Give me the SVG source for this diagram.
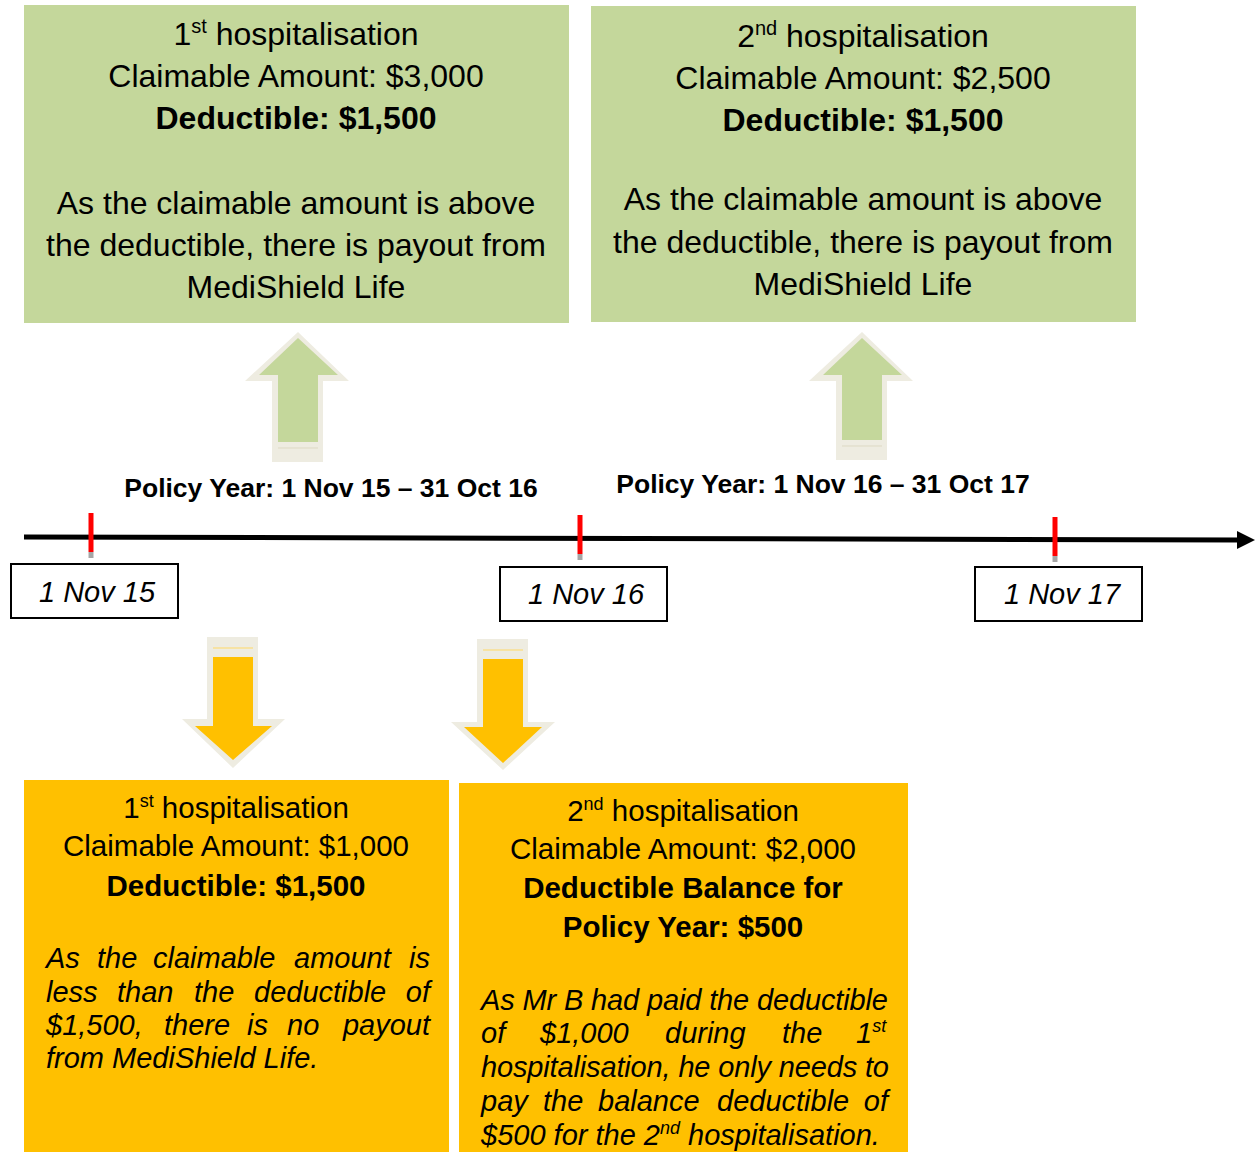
<svg xmlns="http://www.w3.org/2000/svg" width="1255" height="1152" viewBox="0 0 1255 1152">
<style>
text{font-family:"Liberation Sans",Arial,sans-serif;fill:#000}
.g{fill:#C4D79B}
.y{fill:#FFC000}
.t29{font-size:32px;text-anchor:middle}
.t27{font-size:29.5px;text-anchor:middle}
.b{font-weight:bold}
.it{font-size:29px;font-style:italic}
.e{text-anchor:end}
.date{font-size:29px;font-style:italic;text-anchor:middle}
.py{font-size:26.5px;font-weight:bold;text-anchor:middle}
.box{fill:#fff;stroke:#000;stroke-width:2}
.tick{stroke:#FF0000;stroke-width:5}
.tickb{stroke:#A6A6A6;stroke-width:5}
.ao{fill:#EEECE1}
.ag{fill:#C4D79B}
.ay{fill:#FFC000}
</style>
<rect width="1255" height="1152" fill="#fff"/>

<g id="green1">
<rect class="g" x="24" y="5" width="545" height="318"/>
<text class="t29" x="296" y="45">1<tspan font-size="20" dy="-12">st</tspan><tspan dy="12"> hospitalisation</tspan></text>
<text class="t29" x="296" y="87">Claimable Amount: $3,000</text>
<text class="t29 b" x="296" y="129">Deductible: $1,500</text>
<text class="t29" x="296" y="214">As the claimable amount is above</text>
<text class="t29" x="296" y="256">the deductible, there is payout from</text>
<text class="t29" x="296" y="298">MediShield Life</text>
</g>

<g id="green2">
<rect class="g" x="591" y="6" width="545" height="316"/>
<text class="t29" x="863" y="47">2<tspan font-size="20" dy="-12">nd</tspan><tspan dy="12"> hospitalisation</tspan></text>
<text class="t29" x="863" y="89">Claimable Amount: $2,500</text>
<text class="t29 b" x="863" y="131">Deductible: $1,500</text>
<text class="t29" x="863" y="210">As the claimable amount is above</text>
<text class="t29" x="863" y="253">the deductible, there is payout from</text>
<text class="t29" x="863" y="295">MediShield Life</text>
</g>

<g id="connectors">
<polygon class="ao" points="298,332 349,381 323,381 323,462 272,462 272,381 245,381"/>
<polygon class="ag" points="298,338 338,375 318,375 318,442 278,442 278,375 259,375"/>
<line x1="278" y1="448" x2="318" y2="448" stroke="#DDD9C3" stroke-width="1"/>
<polygon class="ao" points="862,332 913,381 887,381 887,460 836,460 836,381 809,381"/>
<polygon class="ag" points="862,338 902,375 882,375 882,440 842,440 842,375 823,375"/>
<line x1="842" y1="446" x2="882" y2="446" stroke="#DDD9C3" stroke-width="1"/>

<polygon class="ao" points="207,637 258,637 258,719 285,719 233,768 182,719 207,719"/>
<polygon class="ay" points="213,657 253,657 253,726 272,726 233,760 195,726 213,726"/>
<line x1="213" y1="648" x2="253" y2="648" stroke="#FFD966" stroke-width="1"/>
<polygon class="ao" points="477,639 528,639 528,722 555,722 503,770 451,722 477,722"/>
<polygon class="ay" points="483,659 523,659 523,727 542,727 503,763 464,727 483,727"/>
<line x1="483" y1="650" x2="523" y2="650" stroke="#FFD966" stroke-width="1"/>

<line x1="24" y1="537" x2="1240" y2="540" stroke="#000" stroke-width="5"/>
<polygon points="1255,540 1237,531 1237,549" fill="#000"/>
<line class="tick" x1="91" y1="513" x2="91" y2="552"/>
<line class="tickb" x1="91" y1="552" x2="91" y2="558"/>
<line class="tick" x1="580" y1="515" x2="580" y2="554"/>
<line class="tickb" x1="580" y1="554" x2="580" y2="560"/>
<line class="tick" x1="1055" y1="517" x2="1055" y2="556"/>
<line class="tickb" x1="1055" y1="556" x2="1055" y2="562"/>
</g>

<g id="policy1"><text class="py" x="331" y="497">Policy Year: 1 Nov 15 – 31 Oct 16</text></g>
<g id="policy2"><text class="py" x="823" y="493">Policy Year: 1 Nov 16 – 31 Oct 17</text></g>

<g id="date1"><rect class="box" x="11" y="564" width="167" height="54"/><text class="date" x="97" y="602">1 Nov 15</text></g>
<g id="date2"><rect class="box" x="500" y="567" width="167" height="54"/><text class="date" x="586" y="604">1 Nov 16</text></g>
<g id="date3"><rect class="box" x="975" y="567" width="167" height="54"/><text class="date" x="1062" y="604">1 Nov 17</text></g>

<g id="yellow1">
<rect class="y" x="24" y="780" width="425" height="372"/>
<text class="t27" x="236" y="818">1<tspan font-size="18" dy="-11">st</tspan><tspan dy="11"> hospitalisation</tspan></text>
<text class="t27" x="236" y="856">Claimable Amount: $1,000</text>
<text class="t27 b" x="236" y="896">Deductible: $1,500</text>
<text class="it" y="968"><tspan x="46">As</tspan><tspan x="97">the</tspan><tspan x="153">claimable</tspan><tspan x="294">amount</tspan><tspan class="e" x="430">is</tspan></text>
<text class="it" y="1002"><tspan x="46">less</tspan><tspan x="117">than</tspan><tspan x="194">the</tspan><tspan x="254">deductible</tspan><tspan class="e" x="430">of</tspan></text>
<text class="it" y="1035"><tspan x="46">$1,500,</tspan><tspan x="164">there</tspan><tspan x="247">is</tspan><tspan x="287">no</tspan><tspan class="e" x="430">payout</tspan></text>
<text class="it" x="46" y="1068">from MediShield Life.</text>
</g>

<g id="yellow2">
<rect class="y" x="459" y="783" width="449" height="369"/>
<text class="t27" x="683" y="821">2<tspan font-size="18" dy="-11">nd</tspan><tspan dy="11"> hospitalisation</tspan></text>
<text class="t27" x="683" y="859">Claimable Amount: $2,000</text>
<text class="t27 b" x="683" y="898">Deductible Balance for</text>
<text class="t27 b" x="683" y="937">Policy Year: $500</text>
<text class="it" x="481" y="1010" textLength="407" lengthAdjust="spacing">As Mr B had paid the deductible</text>
<text class="it" y="1043"><tspan x="481">of</tspan><tspan x="540">$1,000</tspan><tspan x="665">during</tspan><tspan x="782">the</tspan><tspan x="856">1</tspan><tspan font-size="18" dy="-11">st</tspan></text>
<text class="it" x="481" y="1077" textLength="408" lengthAdjust="spacing">hospitalisation, he only needs to</text>
<text class="it" y="1111"><tspan x="481">pay</tspan><tspan x="543">the</tspan><tspan x="598">balance</tspan><tspan x="717">deductible</tspan><tspan class="e" x="888">of</tspan></text>
<text class="it" x="481" y="1145">$500 for the 2<tspan font-size="18" dy="-11">nd</tspan><tspan dy="11"> hospitalisation.</tspan></text>
</g>
</svg>
